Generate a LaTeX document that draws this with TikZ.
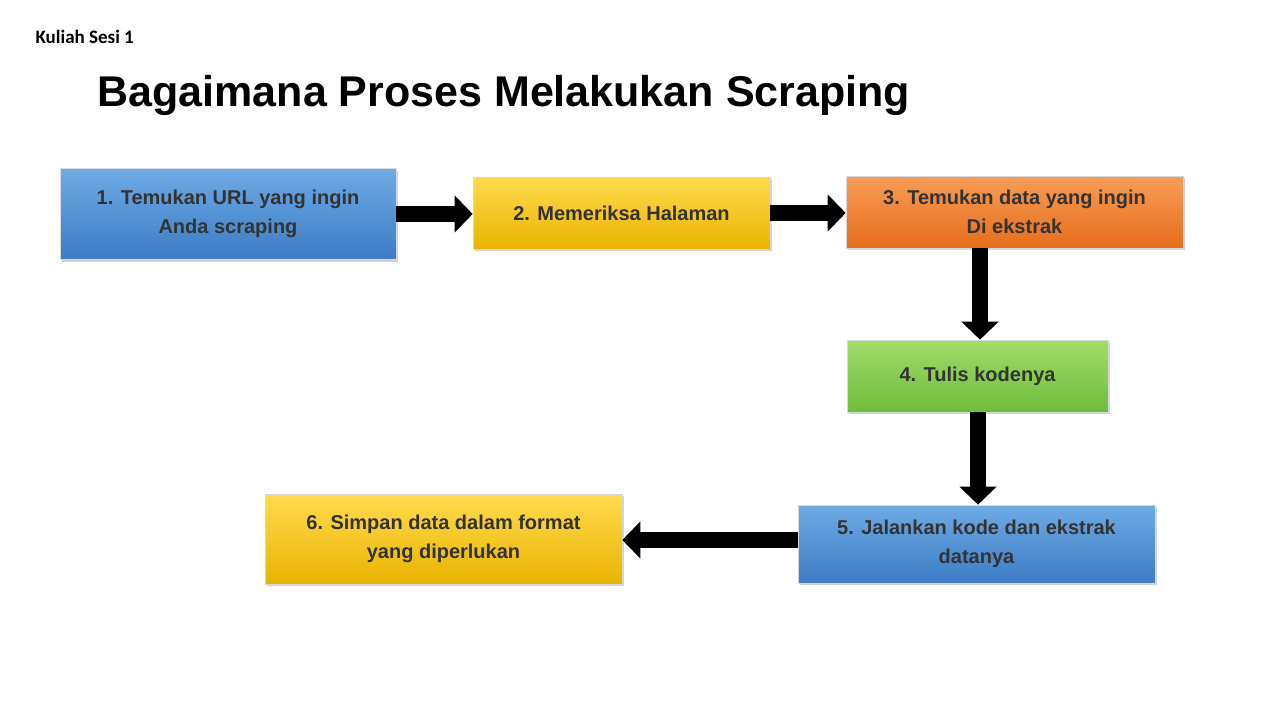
\documentclass[tikz,border=0pt]{standalone}
\usepackage{fontspec}
\setmainfont{Liberation Sans}
\newfontfamily\calib{Carlito}
\usetikzlibrary{arrows.meta,shadows}
\definecolor{txt}{HTML}{333333}
\begin{document}
\begin{tikzpicture}[x=1pt,y=-1pt,
  boxs/.style={draw=white!85!black,line width=0.6pt,align=center,text=txt,font=\fontsize{20}{29}\selectfont\bfseries,inner sep=0pt,drop shadow={shadow xshift=2pt,shadow yshift=-2pt,opacity=0.35}},
  blue/.style={boxs,top color=blue!10!cyan!0!white!0!bluetop,bottom color=bluebot},
  fat/.style={line width=16pt,-{Triangle[length=18pt,width=36pt]}}]
\definecolor{bluetop}{HTML}{6FAAE4}\definecolor{bluebot}{HTML}{3D7CC6}
\definecolor{yeltop}{HTML}{FFDB4D}\definecolor{yelbot}{HTML}{E9B300}
\definecolor{ortop}{HTML}{F89C55}\definecolor{orbot}{HTML}{E56E1C}
\definecolor{grtop}{HTML}{A2DC6A}\definecolor{grbot}{HTML}{6EBD3A}
\useasboundingbox (0,0) rectangle (1280,720);
\fill[white] (0,0) rectangle (1280,720);
\node[anchor=west,font=\calib\fontsize{19}{22}\selectfont\bfseries] (k) at (32,37) {Kuliah Sesi 1};
\node[anchor=west,font=\fontsize{43}{50}\selectfont\bfseries] (t) at (94,95) {Bagaimana Proses Melakukan Scraping};
\node[boxs,top color=bluetop,bottom color=bluebot,minimum width=336pt,minimum height=91pt] (b1) at (228,214) {1. Temukan URL yang ingin\\Anda scraping};
\node[boxs,top color=yeltop,bottom color=yelbot,minimum width=297pt,minimum height=72pt] (b2) at (621.5,213) {2. Memeriksa Halaman};
\node[boxs,top color=ortop,bottom color=orbot,minimum width=337pt,minimum height=72pt] (b3) at (1014.5,212) {3. Temukan data yang ingin\\Di ekstrak};
\node[boxs,top color=grtop,bottom color=grbot,minimum width=261pt,minimum height=72pt] (b4) at (977.5,376) {4. Tulis kodenya};
\node[boxs,top color=bluetop,bottom color=bluebot,minimum width=357pt,minimum height=78pt] (b5) at (976.5,544) {5. Jalankan kode dan ekstrak\\datanya};
\node[boxs,top color=yeltop,bottom color=yelbot,minimum width=357pt,minimum height=90pt] (b6) at (443.5,539) {6. Simpan data dalam format\\yang diperlukan};
\draw[fat] (b1.east |- 0,214) -- (b2.west |- 0,214);
\draw[fat] (b2.east |- 0,213) -- (b3.west |- 0,213);
\draw[fat] (b3.south -| 980,0) -- (b4.north -| 980,0);
\draw[fat] (b4.south -| 978,0) -- (b5.north -| 978,0);
\draw[fat] (b5.west |- 0,540) -- (b6.east |- 0,540);
\end{tikzpicture}
\end{document}
